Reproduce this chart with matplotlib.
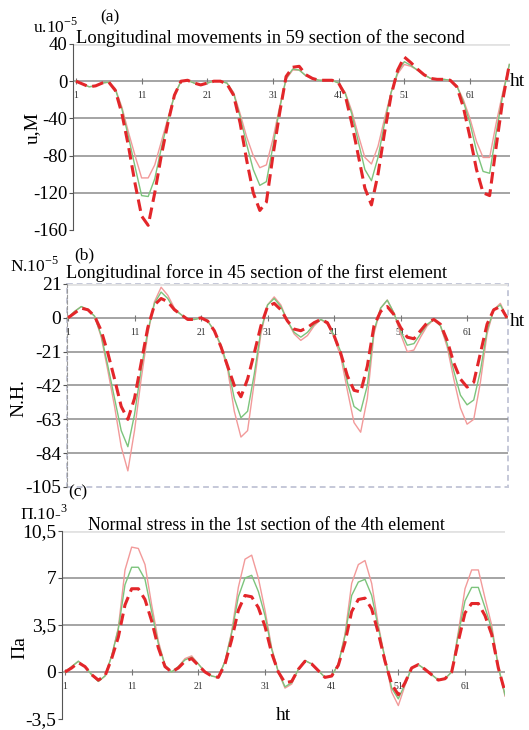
import numpy as np
import matplotlib
matplotlib.use("Agg")
from matplotlib import pyplot as plt
from matplotlib.patches import Rectangle

plt.rcParams['font.family'] = ['Liberation Serif', 'DejaVu Serif']
plt.rcParams['mathtext.fontset'] = 'custom'
plt.rcParams['mathtext.rm'] = 'Liberation Serif'

ht = np.arange(1, 68)
xticks = [1, 11, 21, 31, 41, 51, 61]

# (a) longitudinal movements, u*1e-5 m
a_pink = [0, -3, -6, -5, -2, -1, -8, -28, -55, -80, -104, -104, -90, -65, -40, -15, 0,
          1, -2, -4, -2, 0, 0, -2, -12, -35, -60, -80, -93, -90, -62, -28, 2, 12, 12,
          6, 3, 1, 1, 1, -2, -12, -32, -58, -82, -89, -70, -40, -12, 8, 18, 16, 12, 7,
          3, 2, 2, 1, -5, -20, -40, -65, -82, -82, -45, -12, 18]
a_green = [0, -3, -6, -5, -2, -1, -9, -30, -60, -92, -123, -124, -105, -72, -42, -15, 0,
           1, -2, -4, -2, 0, 0, -2, -13, -38, -68, -95, -112, -108, -70, -30, 3, 13, 12,
           6, 3, 1, 1, 1, -2, -13, -35, -65, -95, -107, -82, -45, -12, 10, 21, 17, 12, 7,
           3, 2, 2, 1, -5, -22, -45, -75, -97, -99, -55, -15, 18]
a_red = [0, -3, -6, -5, -2, -1, -10, -35, -70, -110, -145, -155, -120, -80, -45, -15, 0,
         1, -2, -4, -2, 0, 0, -3, -15, -45, -85, -120, -139, -130, -80, -35, 5, 15, 16,
         7, 3, 1, 1, 1, -2, -15, -45, -80, -115, -133, -100, -55, -15, 12, 26, 20, 13, 7,
         3, 2, 2, 1, -6, -28, -60, -95, -120, -123, -70, -20, 18]
a_yticks = [40, 0, -40, -80, -120, -160]

# (b) longitudinal force, N*1e-5 H
b_pink = [0, 4, 7, 5, 1, -12, -33, -55, -80, -95, -70, -38, -10, 10, 19, 14, 6, 2, -1, -1,
          0, -2, -8, -18, -32, -58, -74, -70, -40, -10, 8, 13, 8, -2, -10, -14, -11, -5, -1,
          -4, -12, -24, -45, -65, -71, -50, -10, 6, 11, 3, -10, -21, -20, -12, -5, -1,
          -5, -18, -38, -56, -66, -63, -40, -10, 5, 9, 0]
b_green = [0, 4, 7, 5, 1, -11, -30, -50, -70, -80, -60, -32, -8, 9, 16, 12, 5, 2, -1, -1,
           0, -2, -8, -17, -30, -50, -62, -58, -35, -8, 8, 12, 7, -2, -9, -12, -9, -4, -1,
           -3, -11, -21, -40, -55, -58, -42, -8, 6, 11, 3, -8, -17, -16, -10, -4, -1,
           -5, -16, -33, -48, -54, -51, -33, -8, 5, 8, 0]
b_red = [0, 3, 6, 5, 1, -8, -22, -38, -55, -63, -50, -28, -6, 8, 12, 10, 5, 2, -1, -1,
         0, -2, -8, -18, -30, -42, -49, -38, -22, -5, 7, 9, 5, -2, -7, -8, -6, -3, -1,
         -3, -11, -22, -36, -45, -46, -30, -5, 4, 7, 2, -6, -12, -13, -8, -3, -1,
         -4, -14, -28, -38, -43, -40, -22, -4, 5, 7, 0]
b_yticks = [21, 0, -21, -42, -63, -84, -105]

# (c) normal stress, 1e-3 Pa
c_pink = [0, 0.4, 0.8, 0.4, -0.2, -0.7, -0.3, 1.2, 3.3, 7.6, 9.3, 9.2, 8.0, 5.0, 2.3, 0.5,
          0.0, 0.4, 1.0, 1.2, 0.6, 0.0, -0.3, -0.4, 0.8, 3.0, 6.3, 8.4, 8.7, 7.0, 4.6, 1.8,
          0.0, -1.2, -0.9, 0.2, 0.85, 0.6, 0.1, -0.4, -0.3, 0.6, 2.8, 6.6, 8.0, 8.3, 6.6,
          3.5, 1.0, -1.5, -2.5, -1.0, 0.3, 0.55, 0.2, -0.2, -0.6, -0.5, 0.0, 3.0, 6.2,
          7.6, 7.6, 5.5, 3.5, 0.4, -1.8]
c_green = [0, 0.4, 0.8, 0.4, -0.2, -0.7, -0.3, 1.2, 3.2, 6.5, 7.8, 7.8, 6.9, 4.5, 2.1, 0.5,
           0.0, 0.4, 0.9, 1.1, 0.6, 0.0, -0.3, -0.4, 0.8, 2.9, 5.6, 7.0, 7.2, 6.0, 4.2, 1.7,
           0.0, -1.1, -0.8, 0.2, 0.85, 0.6, 0.1, -0.4, -0.3, 0.6, 2.7, 5.7, 6.7, 6.9, 5.7,
           3.3, 1.0, -1.2, -2.0, -0.9, 0.3, 0.55, 0.2, -0.2, -0.6, -0.5, 0.0, 2.8, 5.3,
           6.3, 6.3, 4.8, 3.2, 0.4, -1.7]
c_red = [0, 0.3, 0.7, 0.4, -0.2, -0.6, -0.3, 1.0, 2.6, 5.0, 6.2, 6.2, 5.4, 3.8, 1.8, 0.4,
         0.0, 0.3, 0.8, 1.0, 0.5, 0.0, -0.3, -0.4, 0.6, 2.4, 4.6, 5.7, 5.6, 4.8, 3.4, 1.4,
         0.0, -0.8, -0.7, 0.2, 0.8, 0.6, 0.1, -0.4, -0.3, 0.5, 2.2, 4.5, 5.4, 5.5, 4.7,
         2.9, 0.8, -0.9, -1.7, -0.8, 0.3, 0.55, 0.2, -0.2, -0.6, -0.5, 0.0, 2.3, 4.4,
         5.1, 5.1, 4.2, 2.8, 0.3, -1.5]
c_yticks = [10.5, 7, 3.5, 0, -3.5]
c_ylabels = ['10,5', '7', '3,5', '0', '-3,5']

PINK = '#f29a9a'
GREEN = '#7cc47c'
RED = '#e3262a'
GRID = '#8c8c8c'


def draw(ax, pink, green, red, yticks, ylabels, xlim, tsize):
    ax.set_xlim(*xlim)
    ax.set_ylim(yticks[-1], yticks[0])
    for y in yticks[1:-1]:
        ax.axhline(y, color=GRID, lw=1.1, zorder=1)
    ax.axhline(yticks[0], color='#e2e2e2', lw=2, zorder=1)
    ax.plot(ht, pink, color=PINK, lw=1.0, zorder=3)
    ax.plot(ht, green, color=GREEN, lw=1.0, zorder=3)
    ax.plot(ht, red, color=RED, lw=2.2, dashes=(3.8, 1.9), zorder=4)
    ax.set_yticks(yticks)
    ax.set_yticklabels(ylabels, fontsize=tsize)
    ax.tick_params(axis='y', length=3, width=0.8, color='#555555', pad=1)
    ax.spines['bottom'].set_position(('data', 0))
    ax.spines['bottom'].set_visible(False)
    ax.set_xticks(xticks)
    ax.set_xticklabels([str(t) for t in xticks], fontsize=7, color='#333333')
    ax.tick_params(axis='x', direction='inout', length=4, width=0.8, color='#777777', pad=5)
    ax.spines['top'].set_visible(False)
    ax.spines['right'].set_visible(False)
    ax.spines['left'].set_color('#555555')
    ax.spines['left'].set_linewidth(0.8)


fig = plt.figure(figsize=(5.29, 7.30), dpi=100)

# (a)
ax1 = fig.add_axes([73 / 529, 1 - 230 / 730, 437 / 529, 186 / 730])
draw(ax1, a_pink, a_green, a_red, a_yticks, [str(v) for v in a_yticks], (0.55, 67.1), 13.5)
ax1.set_ylabel('u,M', fontsize=14)
ax1.yaxis.set_label_coords(-0.074, 0.55)
ax1.text(1.0, 0.8, 'ht', transform=ax1.transAxes, fontsize=14, va='center')
fig.text(100 / 529, 1 - 17 / 730, '(a)', fontsize=12.5, va='center')
fig.text(33 / 529, 1 - 27 / 730, 'u.10$^{-5}$', fontsize=12.5, va='center')
fig.text(76 / 529, 1 - 38 / 730, 'Longitudinal movements in 59 section of the second',
         fontsize=13.3, va='center')

# (b)
ax2 = fig.add_axes([67 / 529, 1 - 487 / 730, 441 / 529, 203 / 730])
draw(ax2, b_pink, b_green, b_red, b_yticks, [str(v) for v in b_yticks], (0.85, 67.15), 14)
ax2.spines['left'].set_linestyle((0, (3, 2)))
ax2.spines['left'].set_color('#999999')
ax2.add_patch(Rectangle((0, 0), 1, 1, transform=ax2.transAxes, fill=False,
                        ec='#c5c8d8', lw=1.4, ls=(0, (3, 2)), zorder=0, clip_on=False))
ax2.set_ylabel('N.H.', fontsize=14)
ax2.yaxis.set_label_coords(-0.09, 0.44)
ax2.text(1.005, 0.815, 'ht', transform=ax2.transAxes, fontsize=14, va='center')
fig.text(74 / 529, 1 - 255 / 730, '(b)', fontsize=12.5, va='center')
fig.text(10 / 529, 1 - 266 / 730, 'N.10$^{-5}$', fontsize=12.5, va='center')
fig.text(66 / 529, 1 - 273 / 730, 'Longitudinal force in 45 section of the first element',
         fontsize=13.2, va='center')

# (c)
ax3 = fig.add_axes([62 / 529, 1 - 719 / 730, 443 / 529, 188 / 730])
draw(ax3, c_pink, c_green, c_red, c_yticks, c_ylabels, (0.55, 67.0), 14)
ax3.set_ylabel('Πa', fontsize=14)
ax3.yaxis.set_label_coords(-0.075, 0.38)
ax3.text(0.5, 0.02, 'ht', transform=ax3.transAxes, fontsize=14, ha='center', va='center')
fig.text(68 / 529, 1 - 492 / 730, '(c)', fontsize=12.5, va='center')
fig.text(20 / 529, 1 - 514 / 730, 'Π.10-$^{3}$', fontsize=12.5, va='center')
fig.text(88 / 529, 1 - 526 / 730, 'Normal stress in the 1st section of the 4th element',
         fontsize=12.8, va='center')

plt.savefig('out.png', dpi=100)
